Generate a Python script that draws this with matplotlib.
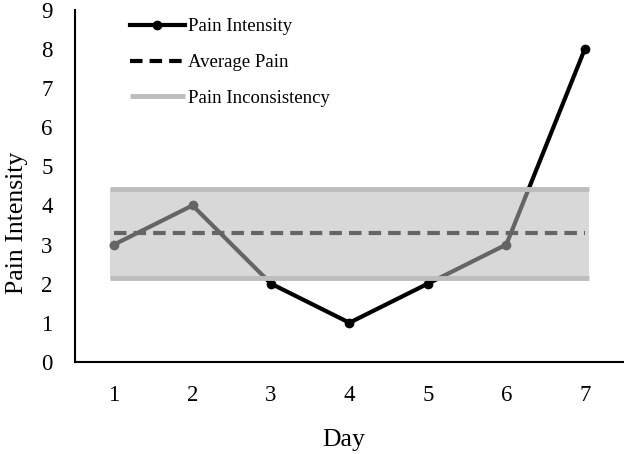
import matplotlib.pyplot as plt

# data
days = [1, 2, 3, 4, 5, 6, 7]
pain = [3, 4, 2, 1, 2, 3, 8]
avg_pain = sum(pain) / len(pain)
band_low = 2.15
band_high = 4.43

plt.rcParams['font.family'] = 'Liberation Serif'

fig = plt.figure(figsize=(6.24, 4.54), dpi=100)
ax = fig.add_axes([0.12, 0.203, 0.88, 0.775])

ax.plot(days, pain, color='black', lw=3, marker='o', ms=6, label='Pain Intensity', zorder=2)
ax.plot([days[0], days[-1]], [avg_pain, avg_pain], color='black', lw=3,
        linestyle=(0, (3, 1.7)), label='Average Pain', zorder=2)

# inconsistency band drawn over the lines
ax.fill_between([0.95, 7.05], band_low, band_high, color='#b9b9b9', alpha=0.55, lw=0, zorder=3)
ax.plot([0.95, 7.05], [band_high, band_high], color='#bdbdbd', lw=3.5, zorder=4,
        label='Pain Inconsistency', solid_capstyle='butt')
ax.plot([0.95, 7.05], [band_low, band_low], color='#bdbdbd', lw=3.5, zorder=4, solid_capstyle='butt')

ax.set_xlim(0.5, 7.5)
ax.set_ylim(0, 9)
ax.set_xticks(days)
ax.set_yticks(range(10))
ax.tick_params(length=0, labelsize=16.5)
ax.tick_params(axis='x', pad=17)
ax.tick_params(axis='y', pad=16)

for s in ['top', 'right']:
    ax.spines[s].set_visible(False)
for s in ['left', 'bottom']:
    ax.spines[s].set_linewidth(1.5)

ax.set_xlabel('Day', fontsize=18.5)
ax.xaxis.set_label_coords(0.49, -0.19)
ax.set_ylabel('Pain Intensity', fontsize=18.5)
ax.yaxis.set_label_coords(-0.085, 0.395)

ax.legend(loc='upper left', bbox_to_anchor=(0.07, 1.025), frameon=False, fontsize=13.5,
          handlelength=2.9, labelspacing=1.0, handletextpad=0.2)

fig.savefig('out.png', dpi=100)
